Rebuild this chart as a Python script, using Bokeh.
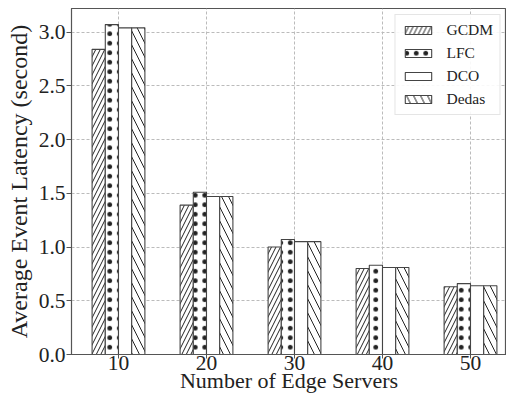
from bokeh.plotting import figure
from bokeh.models import ColumnDataSource, Range1d, FixedTicker, Legend, LegendItem, CustomJSTickFormatter
from bokeh.transform import dodge
from bokeh.embed import file_html
from bokeh.resources import INLINE

servers = [10, 20, 30, 40, 50]
gcdm = [2.84, 1.39, 1.00, 0.80, 0.63]
lfc = [3.07, 1.51, 1.07, 0.83, 0.66]
dco = [3.04, 1.47, 1.05, 0.81, 0.64]
dedas = [3.04, 1.47, 1.05, 0.81, 0.64]
series_names = ["GCDM", "LFC", "DCO", "Dedas"]
y_ticks = [0.0, 0.5, 1.0, 1.5, 2.0, 2.5, 3.0]

src = ColumnDataSource(dict(x=servers, GCDM=gcdm, LFC=lfc, DCO=dco, Dedas=dedas))

FONT = "Liberation Serif"
p = figure(width=506, height=395, output_backend="svg", toolbar_location=None,
           x_range=Range1d(4.66, 54.09), y_range=Range1d(0, 3.22),
           min_border_left=71, min_border_right=0, min_border_top=8, min_border_bottom=0)
p.outline_line_color = "#555555"
p.outline_line_width = 1.2

hatches = ["/", ".", " ", "\\"]
scales = [9.0, 9.5, 12.0, 14.0]
weights = [1.0, 1.0, 1.0, 1.0]
offsets = [-2.25, -0.75, 0.75, 2.25]
renderers = []
for name, h, off, sc, wt in zip(series_names, hatches, offsets, scales, weights):
    kw = dict(hatch_pattern=h, hatch_color="#222222", hatch_scale=sc, hatch_weight=wt) if h.strip() else {}
    r = p.vbar(x=dodge("x", off, range=p.x_range), top=name, width=1.5, source=src,
               fill_color="white", line_color="#444444", line_width=1.1, **kw)
    renderers.append(r)

p.xaxis.ticker = FixedTicker(ticks=servers)
p.yaxis.ticker = FixedTicker(ticks=y_ticks)
p.yaxis.formatter = CustomJSTickFormatter(code="return tick.toFixed(1);")

for ax in (p.xaxis[0], p.yaxis[0]):
    ax.major_label_text_font = FONT
    ax.major_label_text_font_size = "21.5px"
    ax.major_label_text_color = "#222222"
    ax.axis_label_text_font = FONT
    ax.axis_label_text_font_style = "normal"
    ax.axis_label_text_color = "#222222"
    ax.axis_line_color = "#555555"
    ax.major_tick_line_color = "#555555"
    ax.major_tick_in = 0
    ax.minor_tick_line_color = None
p.xaxis.axis_label = "Number of Edge Servers"
p.yaxis.axis_label = "Average Event Latency (second)"
p.xaxis.axis_label_text_font_size = "22px"
p.yaxis.axis_label_text_font_size = "24px"
p.xaxis.major_tick_out = 4
p.yaxis.major_tick_out = 5
p.xaxis.major_label_standoff = -3
p.xaxis.axis_label_standoff = -5
p.yaxis.major_label_standoff = 1
p.yaxis.axis_label_standoff = 4

p.grid.grid_line_color = "#bbbbbb"
p.grid.grid_line_dash = "3 2"
p.grid.grid_line_width = 1

legend = Legend(items=[LegendItem(label=n, renderers=[r]) for n, r in zip(series_names, renderers)],
                location="top_right")
legend.label_text_font = FONT
legend.label_text_font_size = "15.5px"
legend.label_text_color = "#222222"
legend.label_height = 17
legend.glyph_width = 33
legend.glyph_height = 10
legend.spacing = 5
legend.padding = 6
legend.margin = 6
legend.label_standoff = 12
legend.border_line_color = "#cccccc"
legend.border_line_width = 1
legend.background_fill_alpha = 0.9
p.add_layout(legend)

open("out.html", "w").write(file_html(p, INLINE))
